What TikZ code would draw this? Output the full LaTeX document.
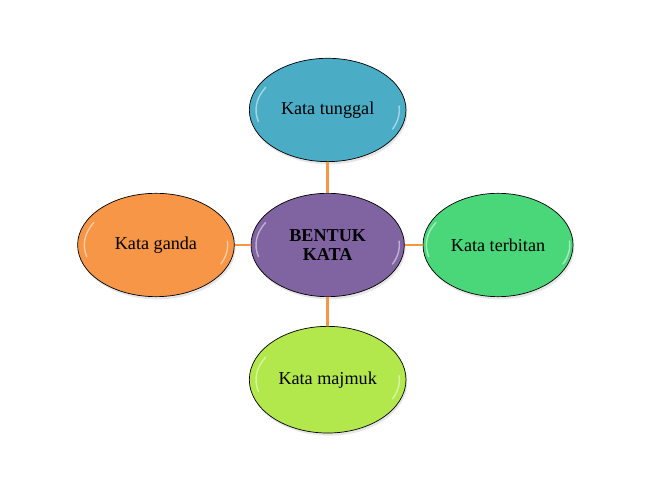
\documentclass[tikz,border=0pt]{standalone}
\usepackage{fontspec}
\setmainfont{Liberation Serif}
\usepackage{xcolor}
\definecolor{katablue}{HTML}{4BACC6}
\definecolor{kataorange}{HTML}{F79646}
\definecolor{katagreen}{HTML}{4AD77A}
\definecolor{katalime}{HTML}{B3E84C}
\definecolor{katapurple}{HTML}{8064A2}
\usetikzlibrary{positioning, shapes.geometric, shadows}

\begin{document}
\begin{tikzpicture}[
    bentuk/.style={ellipse, draw=black, line width=0.6pt,
                   minimum width=4.7cm, minimum height=3.1cm, inner sep=0pt,
                   font=\fontsize{15.5}{16}\selectfont, align=center,
                   drop shadow={opacity=0.2, shadow xshift=0.04cm, shadow yshift=-0.08cm},
                   path picture={
                     \draw[white, opacity=0.5, line width=1.2pt, line cap=round]
                       ([shift={(195:2.15cm and 1.35cm)}]path picture bounding box.center)
                       arc[start angle=195, end angle=150, x radius=2.15cm, y radius=1.35cm];
                     \draw[white, opacity=0.5, line width=1.2pt, line cap=round]
                       ([shift={(-25:2.15cm and 1.35cm)}]path picture bounding box.center)
                       arc[start angle=-25, end angle=5, x radius=2.15cm, y radius=1.35cm];
                   }},
    link/.style={draw=kataorange, line width=2.4pt}
  ]
    \useasboundingbox (-9.83,-7.41) rectangle (9.85,7.35);

    % pusat
    \node[bentuk, fill=katapurple, minimum width=4.6cm, font=\fontsize{15.5}{16}\selectfont\bfseries]
      (kata) at (0,0) {BENTUK\\KATA};

    % cabang
    \node[bentuk, fill=katablue, above=0.93cm of kata] (tunggal) {Kata tunggal};
    \node[bentuk, fill=katagreen, minimum width=4.5cm, right=0.54cm of kata] (terbitan) {Kata terbitan};
    \node[bentuk, fill=katalime, minimum height=3.2cm, below=0.87cm of kata] (majmuk) {Kata majmuk};
    \node[bentuk, fill=kataorange, left=0.48cm of kata] (ganda) {Kata ganda};

    % garis
    \draw[link] (kata) -- (tunggal);
    \draw[link] (kata) -- (terbitan);
    \draw[link] (kata) -- (majmuk);
    \draw[link] (kata) -- (ganda);
  \end{tikzpicture}
\end{document}
